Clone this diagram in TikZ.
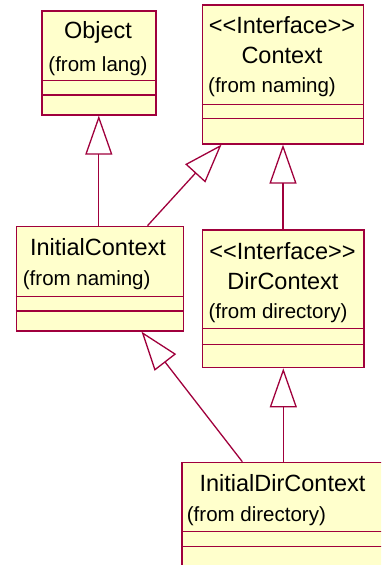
\documentclass[tikz,border=0pt]{standalone}
\usepackage{fontspec}
\setmainfont[Ligatures=TeXOff]{Liberation Sans}
\usetikzlibrary{arrows.meta,calc}
\definecolor{umlline}{RGB}{160,0,60}
\definecolor{umlfill}{RGB}{255,255,204}
\tikzset{
  classbox/.style={draw=umlline, fill=umlfill, line width=1.6pt, inner sep=0pt, anchor=north west},
  divider/.style={draw=umlline, line width=1.4pt},
  title/.style={inner sep=0pt, font=\fontsize{23.5}{28}\selectfont},
  sub/.style={inner sep=0pt, anchor=west, font=\fontsize{20.5}{24}\selectfont},
  inh/.style={draw=umlline, line width=1.3pt, -{Triangle[open, length=39pt, width=27pt]}}
}
\begin{document}
\begin{tikzpicture}[x=1pt,y=-1pt]
\useasboundingbox (0,0) rectangle (381,565);
\clip (0,0) rectangle (381,565);
% Object
\node[classbox, minimum width=114pt, minimum height=104pt] (obj) at (41,10) {};
\node[title] (objt) at (98,32) {Object};
\node[title, font=\fontsize{20.5}{24}\selectfont] (objs) at (98,66) {(from lang)};
\draw[divider] (obj.west |- 0,80.7) -- (obj.east |- 0,80.7);
\draw[divider] (obj.west |- 0,95) -- (obj.east |- 0,95);
% Context
\node[classbox, minimum width=161pt, minimum height=139pt] (ctx) at (201.7,4) {};
\node[title] (ctxst) at (282,25) {<<Interface>>};
\node[title] (ctxt) at (282,55) {Context};
\node[sub] (ctxs) at (208,87) {(from naming)};
\draw[divider] (ctx.west |- 0,104.3) -- (ctx.east |- 0,104.3);
\draw[divider] (ctx.west |- 0,118.7) -- (ctx.east |- 0,118.7);
% InitialContext
\node[classbox, minimum width=167pt, minimum height=104.3pt] (ic) at (15.7,225.7) {};
\node[title] (ict) at (98,246.7) {InitialContext};
\node[sub] (ics) at (22.7,280) {(from naming)};
\draw[divider] (ic.west |- 0,296.7) -- (ic.east |- 0,296.7);
\draw[divider] (ic.west |- 0,311) -- (ic.east |- 0,311);
% DirContext
\node[classbox, minimum width=161.6pt, minimum height=137.4pt] (dc) at (201.7,229.3) {};
\node[title] (dcst) at (282.5,250.7) {<<Interface>>};
\node[title] (dct) at (283,280.7) {DirContext};
\node[sub] (dcs) at (208.3,313.3) {(from directory)};
\draw[divider] (dc.west |- 0,328.3) -- (dc.east |- 0,328.3);
\draw[divider] (dc.west |- 0,344.7) -- (dc.east |- 0,344.7);
% InitialDirContext
\node[classbox, minimum width=203pt, minimum height=140pt] (idc) at (181,461.7) {};
\node[title] (idct) at (282.5,482.7) {InitialDirContext};
\node[sub] (idcs) at (186.7,516) {(from directory)};
\draw[divider] (idc.west |- 0,531.7) -- (idc.east |- 0,531.7);
\draw[divider] (idc.west |- 0,546.7) -- (idc.east |- 0,546.7);
% generalizations
\draw[inh] (ic.north -| obj.south) -- (obj.south);
\draw[inh] ([xshift=47.5pt]ic.north) -- ([xshift=-61.5pt]ctx.south);
\draw[inh] (dc.north -| ctx.south) -- (ctx.south);
\draw[inh] ([xshift=-41pt]idc.north) -- ([xshift=41.5pt]ic.south);
\draw[inh] (idc.north -| dc.south) -- (dc.south);
\end{tikzpicture}
\end{document}
